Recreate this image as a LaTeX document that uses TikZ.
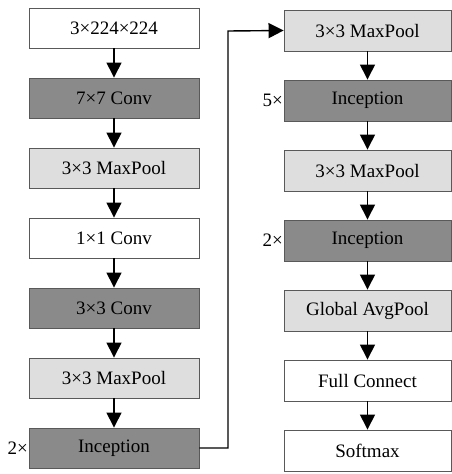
\documentclass[tikz,border=0pt]{standalone}
\usepackage{fontspec}
\setmainfont{Liberation Serif}
\usetikzlibrary{arrows.meta}
\definecolor{darkfill}{HTML}{8A8A8A}
\definecolor{lightfill}{HTML}{DEDEDE}
\begin{document}
\begin{tikzpicture}[x=1pt,y=-1pt,
  box/.style={draw=black!65,line width=0.9pt,minimum width=170pt,minimum height=40pt,inner sep=0pt,font=\fontsize{19}{22}\selectfont},
  rbox/.style={box,minimum width=167pt,minimum height=41pt},
  dark/.style={fill=darkfill,text=black},
  light/.style={fill=lightfill},
  white/.style={fill=white},
  arr/.style={line width=1.4pt,-{Triangle[width=15pt,length=15pt]}},
  rep/.style={font=\fontsize{19}{22}\selectfont,anchor=east,inner sep=0pt}]
\useasboundingbox (0,0) rectangle (452,474);
\fill[white] (0,0) rectangle (452,474);
% left column
\node[box,white] (l1) at (114,28) {3×224×224};
\node[box,dark] (l2) at (114,98) {7×7 Conv};
\node[box,light] (l3) at (114,168) {3×3 MaxPool};
\node[box,white] (l4) at (114,238) {1×1 Conv};
\node[box,dark] (l5) at (114,308) {3×3 Conv};
\node[box,light] (l6) at (114,378) {3×3 MaxPool};
\node[box,dark] (l7) at (114,448) {Inception};
% right column
\node[rbox,light] (r1) at (367.5,30.5) {3×3 MaxPool};
\node[rbox,dark] (r2) at (367.5,100.5) {Inception};
\node[rbox,light] (r3) at (367.5,170.5) {3×3 MaxPool};
\node[rbox,dark] (r4) at (367.5,240.5) {Inception};
\node[rbox,light] (r5) at (367.5,310.5) {Global AvgPool};
\node[rbox,white] (r6) at (367.5,380.5) {Full Connect};
\node[rbox,white] (r7) at (367.5,450.5) {Softmax};
% repeat labels
\node[rep] (n1) at (28,448) {2×};
\node[rep] (n2) at (283,100.5) {5×};
\node[rep] (n3) at (283,240.5) {2×};
% arrows
\draw[arr] (l1) -- (l2);
\draw[arr] (l2) -- (l3);
\draw[arr] (l3) -- (l4);
\draw[arr] (l4) -- (l5);
\draw[arr] (l5) -- (l6);
\draw[arr] (l6) -- (l7);
\draw[arr] (r1) -- (r2);
\draw[arr] (r2) -- (r3);
\draw[arr] (r3) -- (r4);
\draw[arr] (r4) -- (r5);
\draw[arr] (r5) -- (r6);
\draw[arr] (r6) -- (r7);
\coordinate (c1) at (228,448);
\coordinate (c2) at (228,31);
\draw[arr] (l7.east) -- (c1) -- (c2) -- (r1.west);
\end{tikzpicture}
\end{document}
